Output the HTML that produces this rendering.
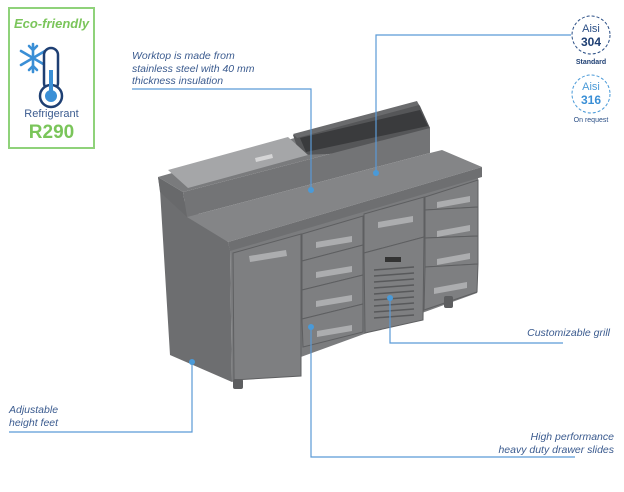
<!DOCTYPE html>
<html><head><meta charset="utf-8"><style>
html,body{margin:0;padding:0;background:#fff;}
body{width:624px;height:492px;overflow:hidden;position:relative;font-family:"Liberation Sans",sans-serif;}
.t{position:absolute;font-style:italic;font-size:10.5px;color:#3b5b8f;line-height:12.5px;}
</style></head><body>
<svg width="624" height="492" style="position:absolute;left:0;top:0">
<!-- eco badge -->
<rect x="9" y="8" width="85" height="140" fill="#fff" stroke="#8fd27a" stroke-width="2"/>
<text x="51.5" y="28" text-anchor="middle" font-family="Liberation Sans" font-style="italic" font-weight="bold" font-size="13" fill="#7ac55a">Eco-friendly</text>
<g stroke="#3a8fd6" stroke-width="2.6" fill="none" stroke-linecap="round">
<line x1="33" y1="44" x2="33" y2="72"/><line x1="21" y1="51" x2="45" y2="65"/><line x1="21" y1="65" x2="45" y2="51"/>
<polyline points="29,46 33,50 37,46"/><polyline points="29,70 33,66 37,70"/>
</g>
<rect x="44" y="48" width="14" height="42" rx="7" fill="#fff" stroke="#1e3f73" stroke-width="2.5"/>
<circle cx="51" cy="96" r="11" fill="#fff" stroke="#1e3f73" stroke-width="2.5"/>
<circle cx="51" cy="96" r="6" fill="#3a8fd6"/>
<rect x="49" y="70" width="4" height="24" fill="#3a8fd6"/>
<text x="51.5" y="117" text-anchor="middle" font-family="Liberation Sans" font-size="11" fill="#3b5b8f">Refrigerant</text>
<text x="51.5" y="138" text-anchor="middle" font-family="Liberation Sans" font-weight="bold" font-size="19" fill="#7ac55a">R290</text>
<!-- Aisi badges -->
<circle cx="591" cy="35" r="19" fill="#fff" stroke="#2b4f86" stroke-width="1" stroke-dasharray="3,2"/>
<text x="591" y="32" text-anchor="middle" font-family="Liberation Sans" font-size="11" fill="#2b4f86">Aisi</text>
<text x="591" y="46" text-anchor="middle" font-family="Liberation Sans" font-weight="bold" font-size="12" fill="#1e3f73">304</text>
<text x="591" y="64" text-anchor="middle" font-family="Liberation Sans" font-weight="bold" font-size="7" fill="#1e3f73">Standard</text>
<circle cx="591" cy="94" r="19" fill="#fff" stroke="#4a9ad8" stroke-width="1" stroke-dasharray="3,2"/>
<text x="591" y="90" text-anchor="middle" font-family="Liberation Sans" font-size="11" fill="#4a9ad8">Aisi</text>
<text x="591" y="104" text-anchor="middle" font-family="Liberation Sans" font-weight="bold" font-size="12" fill="#3a8fd6">316</text>
<text x="591" y="122" text-anchor="middle" font-family="Liberation Sans" font-size="7" fill="#2b4f86">On request</text>
<!-- cabinet body -->
<polygon points="158,177 228,242 230,250 232,382 170,355 160,190" fill="#6d6e70"/>
<polygon points="230,250 478,177 477,293 232,382" fill="#7b7c7e"/>
<!-- splash top -->
<polygon points="158,177 417,103 430,128 183,192" fill="#7a7b7d"/>
<polygon points="293,135 417,102 420,106 430,128 430,150 300,155" fill="#555658"/>
<polygon points="300,138 420,110 428,126 306,152" fill="#3a3b3d"/>
<polygon points="293,134 417,101 419,105 297,138" fill="#6a6b6d"/>
<polygon points="168,170 288,137 308,155 188,188" fill="#a5a6a8"/>
<polygon points="255,158 272,154 273,158 256,162" fill="#d5d5d6"/>
<!-- splash front face -->
<polygon points="183,192 430,128 430,153 187,217" fill="#737476"/>
<polygon points="158,177 183,192 187,217 160,192" fill="#68696b"/>
<!-- worktop surface -->
<polygon points="187,217 430,153 442,150 482,167 228,242" fill="#848587"/>
<polygon points="228,242 482,167 482,177 230,251" fill="#6e6f71"/>
<!-- door -->
<polygon points="233,253 301,234 301,376 234,380" fill="#7e7f81" stroke="#5e5f61" stroke-width="1"/>
<polygon points="249,256 286,250 287,256 250,262" fill="#acadaf"/>
<!-- drawers -->
<g stroke="#5e5f61" stroke-width="1" fill="#7e7f81">
<polygon points="302,234 363,216 363,245 302,261"/>
<polygon points="302,261 363,245 363,275 302,290"/>
<polygon points="302,290 363,275 363,304 302,319"/>
<polygon points="302,319 363,304 363,332 303,347"/>
<polygon points="364,214 424,197 424,237 364,253"/>
<polygon points="364,253 424,237 423,320 365,333"/>
<polygon points="425,197 478,180 478,207 425,210"/>
<polygon points="425,210 478,207 478,236 425,238"/>
<polygon points="425,238 478,236 478,264 425,267"/>
<polygon points="425,267 478,264 477,292 424,310"/>
</g>
<g fill="#acadaf">
<polygon points="316,242 352,236 352,242 316,248"/>
<polygon points="316,272 352,266 352,272 316,278"/>
<polygon points="316,301 352,295 352,301 316,307"/>
<polygon points="317,331 352,325 352,331 317,337"/>
<polygon points="378,222 413,216 413,222 378,228"/>
<polygon points="437,202 470,196 470,202 437,208"/>
<polygon points="437,231 470,225 470,231 437,237"/>
<polygon points="437,259 470,253 470,259 437,265"/>
<polygon points="434,288 467,282 467,288 434,294"/>
</g>
<g stroke="#58595b" stroke-width="1.5">
<line x1="374" y1="270" x2="414" y2="267"/><line x1="374" y1="276" x2="414" y2="273"/>
<line x1="374" y1="282" x2="414" y2="279"/><line x1="374" y1="288" x2="414" y2="285"/>
<line x1="374" y1="294" x2="414" y2="291"/><line x1="374" y1="300" x2="414" y2="297"/>
<line x1="374" y1="306" x2="414" y2="303"/><line x1="374" y1="312" x2="414" y2="309"/>
<line x1="374" y1="318" x2="414" y2="315"/>
</g>
<rect x="385" y="257" width="16" height="5" fill="#333"/>
<rect x="233" y="379" width="10" height="10" rx="2" fill="#5d5e60"/>
<rect x="444" y="296" width="9" height="12" rx="2" fill="#5d5e60"/>
<!-- callouts -->
<g stroke="#5b9ad6" stroke-width="1.2" fill="none">
<polyline points="132,89 311,89 311,190"/>
<polyline points="571,35 376,35 376,173"/>
<polyline points="390,298 390,343 563,343"/>
<polyline points="311,327 311,457 575,457"/>
<polyline points="192,362 192,432 9,432"/>
</g>
<g fill="#4a9ad8">
<circle cx="311" cy="190" r="3"/><circle cx="376" cy="173" r="3"/>
<circle cx="390" cy="298" r="3"/><circle cx="311" cy="327" r="3"/><circle cx="192" cy="362" r="3"/>
</g>
</svg>
<div class="t" style="left:132px;top:50px">Worktop is made from<br>stainless steel with 40 mm<br>thickness insulation</div>
<div class="t" style="left:480px;top:327px;width:130px;text-align:right">Customizable grill</div>
<div class="t" style="left:9px;top:404px">Adjustable<br>height feet</div>
<div class="t" style="left:440px;top:431px;width:174px;text-align:right">High performance<br>heavy duty drawer slides</div>
</body></html>
